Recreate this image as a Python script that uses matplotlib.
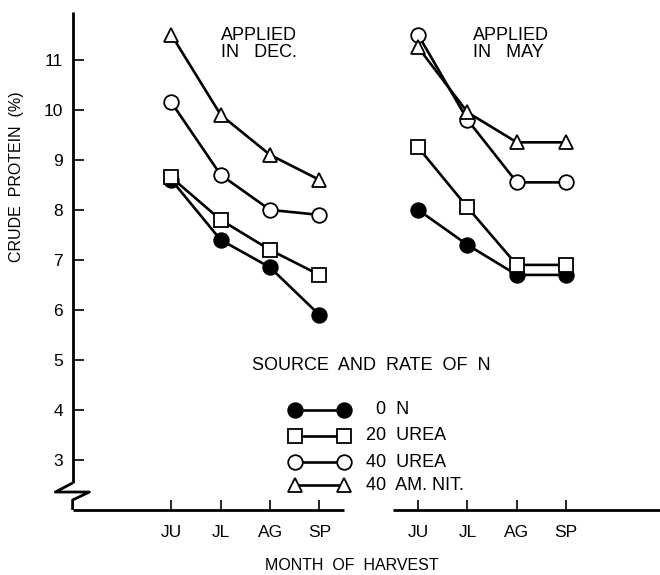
import matplotlib
matplotlib.use('Agg')
import matplotlib.pyplot as plt

plt.rcParams['font.family'] = ['Liberation Sans', 'DejaVu Sans']

# ----------------------------------------------------------------------
# DATA (crude protein %)
# ----------------------------------------------------------------------
months = ['JU', 'JL', 'AG', 'SP']
x_dec = [2, 3, 4, 5]
x_may = [7, 8, 9, 10]

series = ['0  N', '20  UREA', '40  UREA', '40  AM. NIT.']

dec_0n = [8.6, 7.4, 6.85, 5.9]
dec_20u = [8.65, 7.8, 7.2, 6.7]
dec_40u = [10.15, 8.7, 8.0, 7.9]
dec_40an = [11.5, 9.9, 9.1, 8.6]

may_0n = [8.0, 7.3, 6.7, 6.7]
may_20u = [9.25, 8.05, 6.9, 6.9]
may_40u = [11.5, 9.8, 8.55, 8.55]
may_40an = [11.25, 9.95, 9.35, 9.35]

# marker style per series: (marker, filled)
styles = [('o', True), ('s', False), ('o', False), ('^', False)]

fig = plt.figure(figsize=(6.6, 5.75), dpi=100)
ax = fig.add_axes([0.110, 0.113, 0.89, 0.870])
ax.set_xlim(0, 11.9)
ax.set_ylim(2, 12)

dec = [dec_0n, dec_20u, dec_40u, dec_40an]
may = [may_0n, may_20u, may_40u, may_40an]
for vals_d, vals_m, (mk, filled) in zip(dec, may, styles):
    ms = 10.5 if mk != 's' else 10
    for xs, ys in ((x_dec, vals_d), (x_may, vals_m)):
        ax.plot(xs, ys, color='black', lw=1.9, marker=mk, ms=ms,
                mfc='black' if filled else 'white', mec='black', mew=1.3,
                zorder=3)

# hand-drawn style axes: broken x axis, zigzag on y axis
for s in ax.spines.values():
    s.set_visible(False)
kw = dict(color='black', lw=2.0, clip_on=False, solid_capstyle='butt')
ax.plot([0, 0], [11.96, 2.54], **kw)
ax.plot([0, -0.35, 0.34, 0, 0], [2.54, 2.36, 2.36, 2.2, 2.0], **kw)
ax.plot([0, 5.5], [2, 2], **kw)
ax.plot([6.5, 11.9], [2, 2], **kw)

ax.set_yticks(range(3, 12))
ax.set_yticklabels([str(v) for v in range(3, 12)])
ax.set_xticks(x_dec + x_may)
ax.set_xticklabels(months + months)
ax.tick_params(axis='y', direction='in', length=8, width=1.2, pad=7,
               labelsize=12.5)
ax.tick_params(axis='x', direction='in', length=7, width=1.2, pad=11,
               labelsize=12.5)

ax.set_ylabel('CRUDE  PROTEIN  (%)', fontsize=11.5)
ax.yaxis.set_label_coords(-0.082, 0.666)
ax.set_xlabel('MONTH  OF  HARVEST', fontsize=11.5)
ax.xaxis.set_label_coords(0.476, -0.095)

ax.text(3.0, 11.66, 'APPLIED\nIN   DEC.', fontsize=13, va='top',
        ha='left', linespacing=1.05)
ax.text(8.12, 11.66, 'APPLIED\nIN   MAY', fontsize=13, va='top',
        ha='left', linespacing=1.05)

# legend drawn by hand to match the original layout
ax.text(6.05, 4.88, 'SOURCE  AND  RATE  OF  N', fontsize=13,
        ha='center', va='center')
leg_y = [4.0, 3.48, 2.96, 2.5]
lx0, lx1 = 4.5, 5.5
for yy, lab, (mk, filled) in zip(leg_y, series, styles):
    ms = 10.5 if mk != 's' else 10
    ax.plot([lx0, lx1], [yy, yy], color='black', lw=1.9, marker=mk, ms=ms,
            mfc='black' if filled else 'white', mec='black', mew=1.3,
            clip_on=False, zorder=3)
    tx = 6.15 if lab.startswith('0') else 5.95
    ax.text(tx, yy, lab, fontsize=13, ha='left', va='center')

fig.savefig('out.png', dpi=100)
